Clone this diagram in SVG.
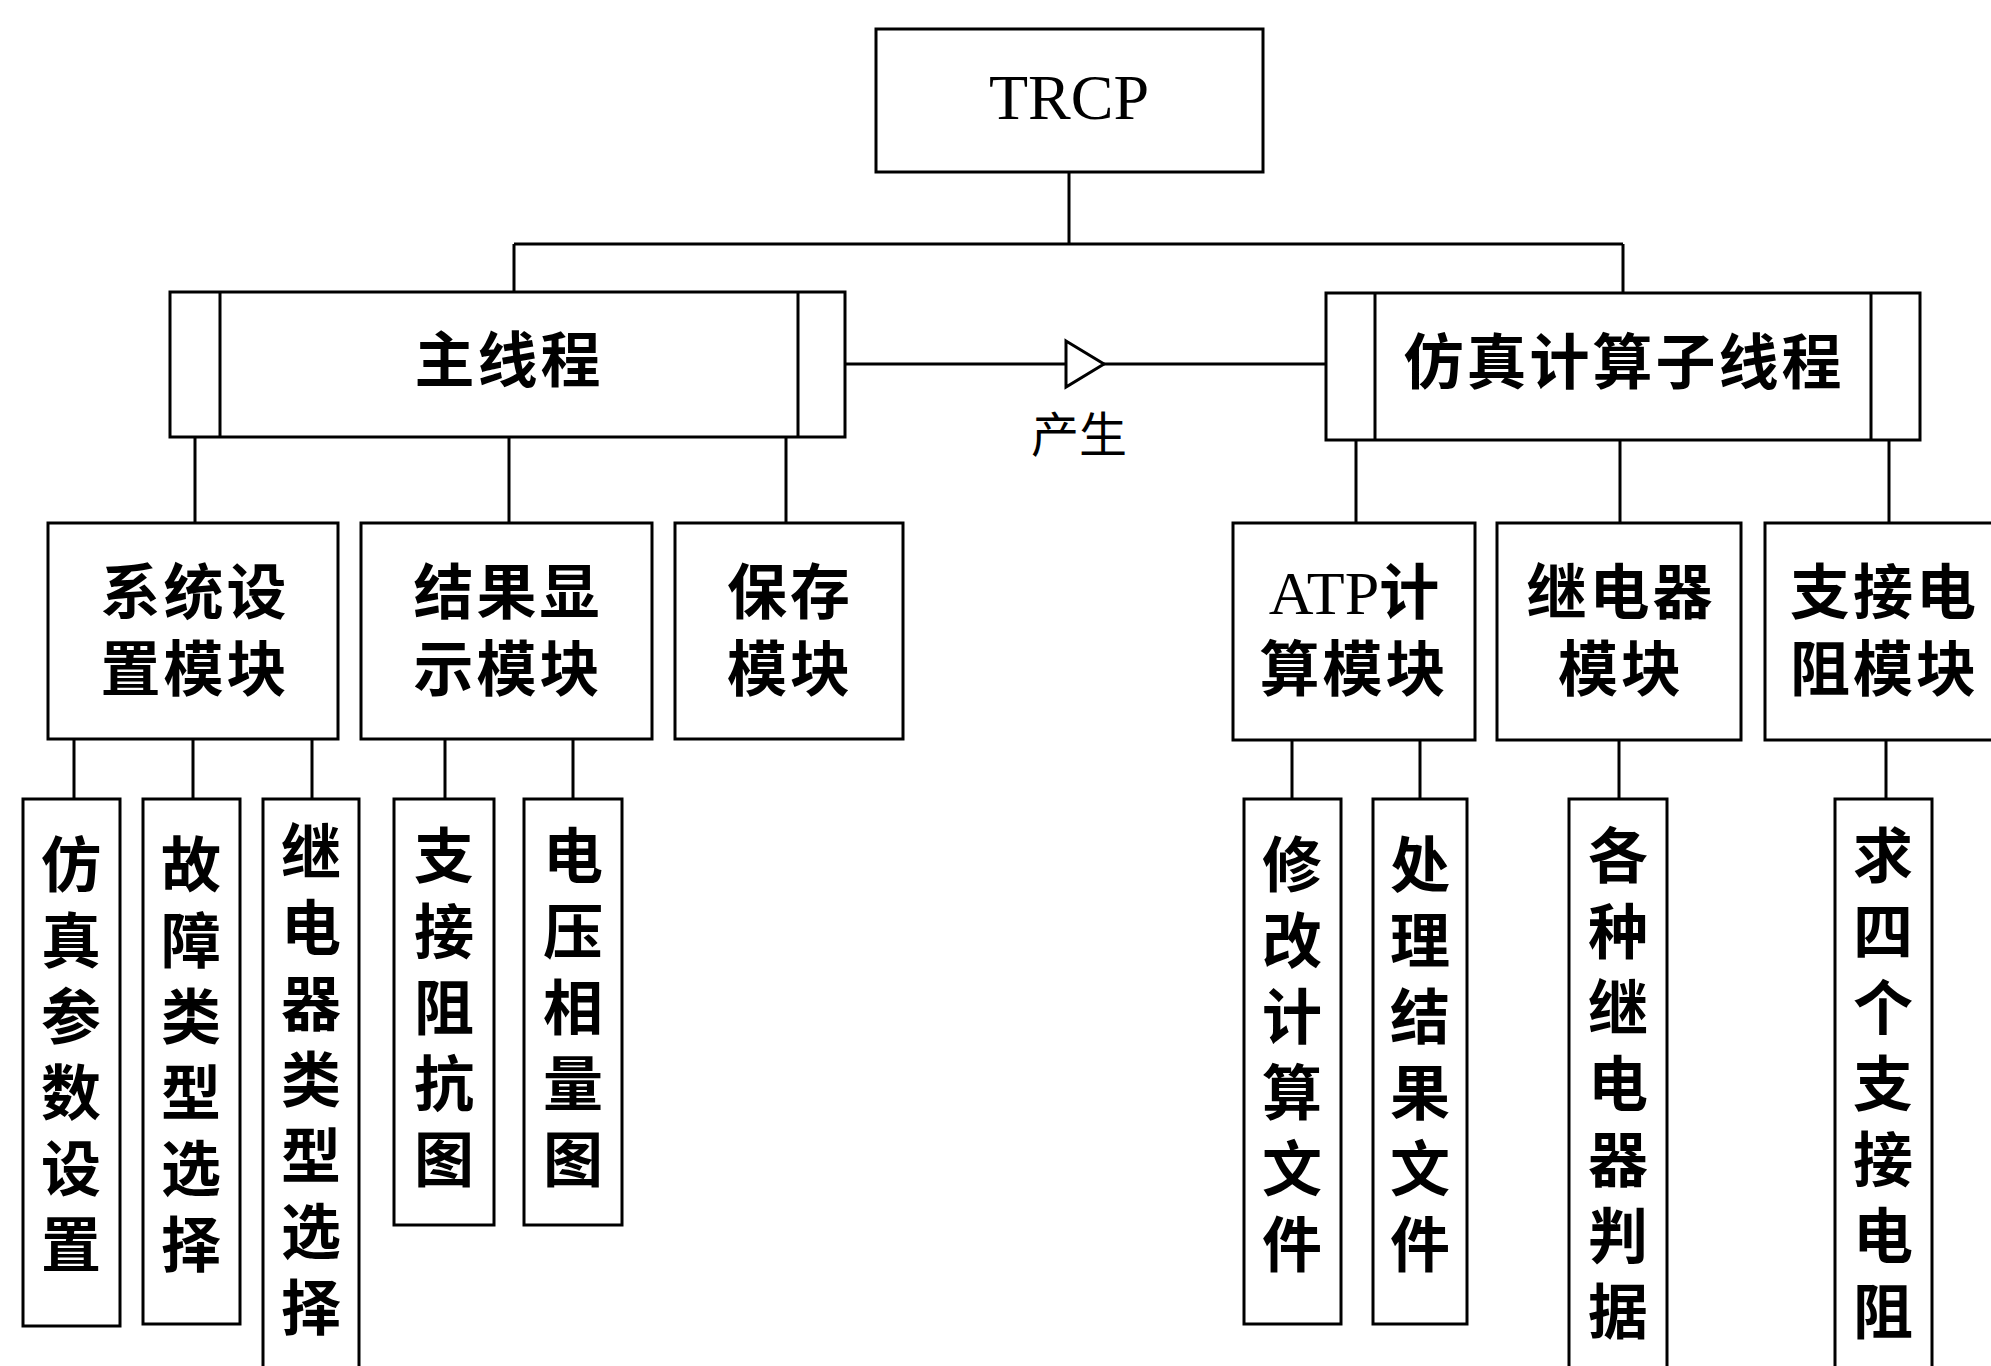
<svg xmlns="http://www.w3.org/2000/svg" width="1991" height="1366" viewBox="0 0 1991 1366">
<style>
.b{fill:#fff;stroke:#000;stroke-width:3}
.l{fill:none;stroke:#000;stroke-width:3}
.t{font-family:"Noto Sans CJK SC","Noto Sans CJK JP",sans-serif;font-size:60px;font-weight:700;fill:#000;text-anchor:middle}
.v{font-family:"Noto Sans CJK SC","Noto Sans CJK JP",sans-serif;font-size:60px;font-weight:700;fill:#000;text-anchor:middle}
.s{font-family:"Liberation Serif",serif;font-weight:400}
</style>
<defs>
<marker id="tri" markerUnits="userSpaceOnUse" markerWidth="42" markerHeight="50" viewBox="-2 -2 42 50" refX="0" refY="23" orient="auto" overflow="visible">
<path d="M0,0 L38,23 L0,46 Z" fill="#fff" stroke="#000" stroke-width="3"/>
</marker>
</defs>
<rect width="1991" height="1366" fill="#fff"/>
<g id="connectors">
<path class="l" d="M1069,172V244M514,244H1623M514,244V292M1623,244V293"/>
<polyline class="l" points="845,364 1066,364 1326,364" marker-mid="url(#tri)"/>
<path class="l" d="M195,437V523M509,437V523M786,437V523M1356,440V523M1620,440V523M1889,440V523"/>
<path class="l" d="M74,739V799M193,739V799M312,739V799M445,739V799M573,739V799M1292,740V799M1420,740V799M1619,740V799M1886,740V799"/>
</g>
<text x="1079" y="452" class="t" style="font-size:48px;font-weight:400">产生</text>
<g id="trcp">
<rect class="b" x="876" y="29" width="387" height="143"/>
<text x="1069" y="119" class="s" style="font-size:64px" text-anchor="middle">TRCP</text>
</g>
<g id="main-thread">
<rect class="b" x="170" y="292" width="675" height="145"/>
<path class="l" d="M220,292V437M798,292V437"/>
<text x="509" y="382" class="t" letter-spacing="3">主线程</text>
</g>
<g id="sim-thread">
<rect class="b" x="1326" y="293" width="594" height="147"/>
<path class="l" d="M1375,293V440M1871,293V440"/>
<text x="1624" y="384" class="t" letter-spacing="3">仿真计算子线程</text>
</g>
<g id="sys-setting">
<rect class="b" x="48" y="523" width="290" height="216"/>
<text class="t" letter-spacing="3"><tspan x="195" y="614">系统设</tspan><tspan x="195" y="691">置模块</tspan></text>
</g>
<g id="result-display">
<rect class="b" x="361" y="523" width="291" height="216"/>
<text class="t" letter-spacing="3"><tspan x="508" y="614">结果显</tspan><tspan x="508" y="691">示模块</tspan></text>
</g>
<g id="save">
<rect class="b" x="675" y="523" width="228" height="216"/>
<text class="t" letter-spacing="3"><tspan x="790" y="614">保存</tspan><tspan x="790" y="691">模块</tspan></text>
</g>
<g id="atp">
<rect class="b" x="1233" y="523" width="242" height="217"/>
<text class="t"><tspan x="1354" y="614"><tspan class="s" style="font-size:62px">ATP</tspan>计</tspan><tspan x="1354" y="691" letter-spacing="3">算模块</tspan></text>
</g>
<g id="relay">
<rect class="b" x="1497" y="523" width="244" height="217"/>
<text class="t" letter-spacing="3"><tspan x="1621" y="614">继电器</tspan><tspan x="1621" y="691">模块</tspan></text>
</g>
<g id="support-res">
<rect class="b" x="1765" y="523" width="240" height="217"/>
<text class="t" letter-spacing="3" style="text-anchor:start"><tspan x="1790" y="614">支接电</tspan><tspan x="1790" y="691">阻模块</tspan></text>
</g>
<g id="leaf-sim-param">
<rect class="b" x="23" y="799" width="97" height="527"/>
<text class="v"><tspan x="71" y="887">仿</tspan><tspan x="71" y="963">真</tspan><tspan x="71" y="1039">参</tspan><tspan x="71" y="1115">数</tspan><tspan x="71" y="1191">设</tspan><tspan x="71" y="1267">置</tspan></text>
</g>
<g id="leaf-fault-type">
<rect class="b" x="143" y="799" width="97" height="525"/>
<text class="v"><tspan x="191" y="887">故</tspan><tspan x="191" y="963">障</tspan><tspan x="191" y="1039">类</tspan><tspan x="191" y="1115">型</tspan><tspan x="191" y="1191">选</tspan><tspan x="191" y="1267">择</tspan></text>
</g>
<g id="leaf-relay-type">
<rect class="b" x="263" y="799" width="96" height="580"/>
<text class="v"><tspan x="311" y="874">继</tspan><tspan x="311" y="950">电</tspan><tspan x="311" y="1026">器</tspan><tspan x="311" y="1102">类</tspan><tspan x="311" y="1178">型</tspan><tspan x="311" y="1254">选</tspan><tspan x="311" y="1330">择</tspan></text>
</g>
<g id="leaf-impedance">
<rect class="b" x="394" y="799" width="100" height="426"/>
<text class="v"><tspan x="444" y="878">支</tspan><tspan x="444" y="954">接</tspan><tspan x="444" y="1030">阻</tspan><tspan x="444" y="1106">抗</tspan><tspan x="444" y="1182">图</tspan></text>
</g>
<g id="leaf-phasor">
<rect class="b" x="524" y="799" width="98" height="426"/>
<text class="v"><tspan x="573" y="878">电</tspan><tspan x="573" y="954">压</tspan><tspan x="573" y="1030">相</tspan><tspan x="573" y="1106">量</tspan><tspan x="573" y="1182">图</tspan></text>
</g>
<g id="leaf-modify">
<rect class="b" x="1244" y="799" width="97" height="525"/>
<text class="v"><tspan x="1292" y="887">修</tspan><tspan x="1292" y="963">改</tspan><tspan x="1292" y="1039">计</tspan><tspan x="1292" y="1115">算</tspan><tspan x="1292" y="1191">文</tspan><tspan x="1292" y="1267">件</tspan></text>
</g>
<g id="leaf-process">
<rect class="b" x="1373" y="799" width="94" height="525"/>
<text class="v"><tspan x="1420" y="887">处</tspan><tspan x="1420" y="963">理</tspan><tspan x="1420" y="1039">结</tspan><tspan x="1420" y="1115">果</tspan><tspan x="1420" y="1191">文</tspan><tspan x="1420" y="1267">件</tspan></text>
</g>
<g id="leaf-criteria">
<rect class="b" x="1569" y="799" width="98" height="580"/>
<text class="v"><tspan x="1618" y="878">各</tspan><tspan x="1618" y="954">种</tspan><tspan x="1618" y="1030">继</tspan><tspan x="1618" y="1106">电</tspan><tspan x="1618" y="1182">器</tspan><tspan x="1618" y="1258">判</tspan><tspan x="1618" y="1334">据</tspan></text>
</g>
<g id="leaf-four-res">
<rect class="b" x="1835" y="799" width="97" height="580"/>
<text class="v"><tspan x="1883" y="878">求</tspan><tspan x="1883" y="954">四</tspan><tspan x="1883" y="1030">个</tspan><tspan x="1883" y="1106">支</tspan><tspan x="1883" y="1182">接</tspan><tspan x="1883" y="1258">电</tspan><tspan x="1883" y="1334">阻</tspan></text>
</g>
</svg>
